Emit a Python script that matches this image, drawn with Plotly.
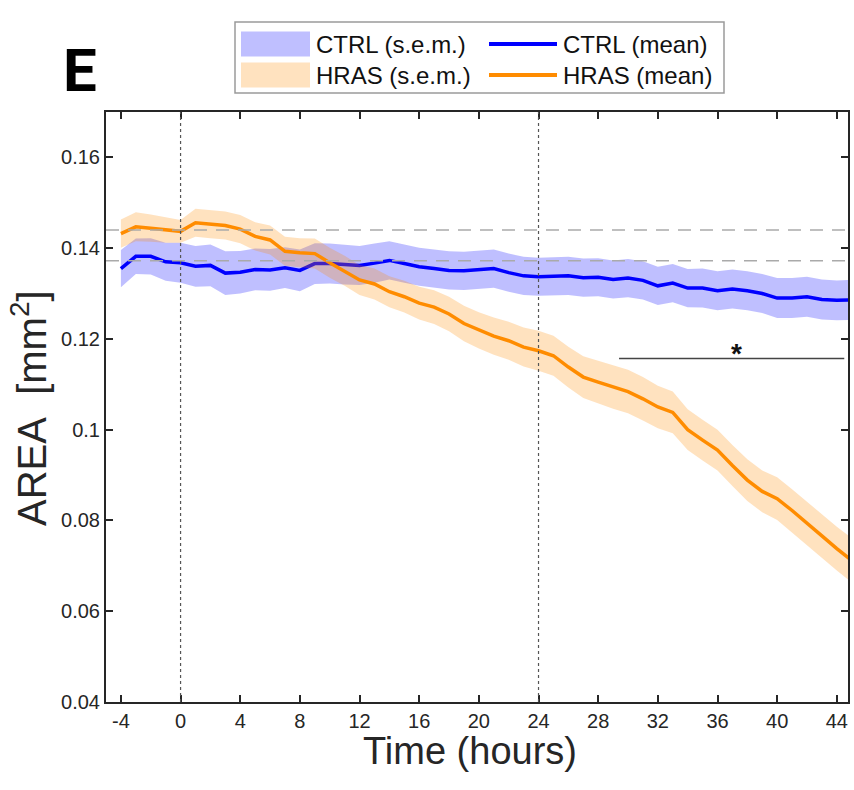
import plotly.graph_objects as go

# ---------------- data ----------------
time_h = list(range(-4, 46))

ctrl_mean = [0.1355, 0.1382, 0.1382, 0.1370, 0.1368, 0.1360, 0.1362, 0.1345, 0.1347, 0.1353,
             0.1352, 0.1357, 0.1351, 0.1366, 0.1366, 0.1364, 0.1362, 0.1367, 0.1373, 0.1366,
             0.1359, 0.1355, 0.1351, 0.1350, 0.1352, 0.1355, 0.1346, 0.1339, 0.1337, 0.1338,
             0.1339, 0.1335, 0.1336, 0.1331, 0.1334, 0.1329, 0.1317, 0.1323, 0.1312, 0.1312,
             0.1306, 0.1310, 0.1306, 0.1300, 0.1290, 0.1290, 0.1293, 0.1287, 0.1285, 0.1286]
ctrl_sem = [0.0041, 0.0039, 0.0040, 0.0042, 0.0044, 0.0045, 0.0046, 0.0048, 0.0047, 0.0046,
            0.0046, 0.0045, 0.0046, 0.0045, 0.0044, 0.0044, 0.0043, 0.0043, 0.0042, 0.0042,
            0.0042, 0.0042, 0.0042, 0.0042, 0.0042, 0.0042, 0.0042, 0.0042, 0.0042, 0.0042,
            0.0042, 0.0042, 0.0042, 0.0042, 0.0042, 0.0042, 0.0042, 0.0042, 0.0042, 0.0043,
            0.0043, 0.0043, 0.0043, 0.0043, 0.0044, 0.0044, 0.0044, 0.0044, 0.0044, 0.0044]

hras_mean = [0.1432, 0.1447, 0.1444, 0.1440, 0.1437, 0.1456, 0.1453, 0.1450, 0.1442, 0.1426,
             0.1418, 0.1393, 0.1390, 0.1388, 0.1368, 0.1350, 0.1330, 0.1321, 0.1304, 0.1293,
             0.1279, 0.1270, 0.1255, 0.1234, 0.1219, 0.1206, 0.1196, 0.1182, 0.1174, 0.1163,
             0.1138, 0.1116, 0.1105, 0.1094, 0.1084, 0.1068, 0.1050, 0.1038, 0.1000, 0.0977,
             0.0955, 0.0921, 0.0889, 0.0864, 0.0848, 0.0822, 0.0793, 0.0766, 0.0738, 0.0712]
hras_sem = [0.0031, 0.0032, 0.0030, 0.0028, 0.0025, 0.0031, 0.0031, 0.0031, 0.0031, 0.0031,
            0.0032, 0.0032, 0.0032, 0.0033, 0.0033, 0.0033, 0.0033, 0.0034, 0.0034, 0.0035,
            0.0036, 0.0037, 0.0038, 0.0039, 0.0040, 0.0041, 0.0042, 0.0043, 0.0044, 0.0044,
            0.0045, 0.0046, 0.0047, 0.0048, 0.0048, 0.0048, 0.0047, 0.0046, 0.0045, 0.0045,
            0.0045, 0.0045, 0.0046, 0.0046, 0.0047, 0.0047, 0.0048, 0.0048, 0.0048, 0.0049]

x_ticks = list(range(-4, 45, 4))
x_tick_text = [str(v) for v in x_ticks]          # plain hyphen minus, as in the reference
y_ticks = [0.04, 0.06, 0.08, 0.10, 0.12, 0.14, 0.16]
y_tick_text = ["0.04", "0.06", "0.08", "0.1", "0.12", "0.14", "0.16"]

ref_lines_y = [0.1440, 0.1372]      # dashed grey reference levels
event_times = [0, 24]               # dotted vertical markers
sig_start, sig_end, sig_level = 29.4, 44.5, 0.1157

series_names = ["CTRL (s.e.m.)", "CTRL (mean)", "HRAS (s.e.m.)", "HRAS (mean)"]

for arr in (ctrl_mean, ctrl_sem, hras_mean, hras_sem):
    assert len(arr) == len(time_h)

# ---------------- styling ----------------
BLUE = "#0000FF"
ORANGE = "#FF8C00"
BLUE_FILL = "rgba(0,0,255,0.25)"
ORANGE_FILL = "rgba(255,140,0,0.25)"
AX = "#262626"
FONT = "Liberation Sans, Arial, sans-serif"

W, H = 854, 790
ML, MR, MT, MB = 106, 6, 112, 88
PW, PH = W - ML - MR, H - MT - MB


def px_to_paper_x(px):
    return (px - ML) / PW


def px_to_paper_y(py):
    return (H - MB - py) / PH


def band(mean, sem):
    up = [m + s for m, s in zip(mean, sem)]
    lo = [m - s for m, s in zip(mean, sem)]
    return time_h + time_h[::-1], up + lo[::-1]


fig = go.Figure()
bx, by = band(ctrl_mean, ctrl_sem)
fig.add_trace(go.Scatter(x=bx, y=by, fill="toself", fillcolor=BLUE_FILL, mode="lines",
                         line=dict(width=0, color=BLUE_FILL), name=series_names[0],
                         hoverinfo="skip", showlegend=False))
fig.add_trace(go.Scatter(x=time_h, y=ctrl_mean, mode="lines", line=dict(color=BLUE, width=3.5),
                         name=series_names[1], showlegend=False))
bx, by = band(hras_mean, hras_sem)
fig.add_trace(go.Scatter(x=bx, y=by, fill="toself", fillcolor=ORANGE_FILL, mode="lines",
                         line=dict(width=0, color=ORANGE_FILL), name=series_names[2],
                         hoverinfo="skip", showlegend=False))
fig.add_trace(go.Scatter(x=time_h, y=hras_mean, mode="lines", line=dict(color=ORANGE, width=3.5),
                         name=series_names[3], showlegend=False))

shapes = []
for t in event_times:
    shapes.append(dict(type="line", xref="x", yref="paper", x0=t, x1=t, y0=0, y1=1,
                       line=dict(color="#555555", width=1.2, dash="dot"), layer="above"))
for yv in ref_lines_y:
    shapes.append(dict(type="line", xref="paper", yref="y", x0=0, x1=1, y0=yv, y1=yv,
                       line=dict(color="#AAAAAA", width=1.5, dash="13px,9px"), layer="above"))
shapes.append(dict(type="line", xref="x", yref="y", x0=sig_start, x1=sig_end,
                   y0=sig_level, y1=sig_level, line=dict(color="#444444", width=1.5)))

# ---------------- legend (frame + swatches + labels) ----------------
shapes.append(dict(type="rect", xref="paper", yref="paper",
                   x0=px_to_paper_x(235), x1=px_to_paper_x(724),
                   y0=px_to_paper_y(93), y1=px_to_paper_y(22),
                   line=dict(color="#9A9A9A", width=1.5), fillcolor="white"))
legend_rows = [44, 75]
annotations = []
for row, (fill_c, line_c, sem_name, mean_name) in enumerate(
        [(BLUE_FILL, BLUE, series_names[0], series_names[1]),
         (ORANGE_FILL, ORANGE, series_names[2], series_names[3])]):
    cy = legend_rows[row]
    shapes.append(dict(type="rect", xref="paper", yref="paper",
                       x0=px_to_paper_x(241), x1=px_to_paper_x(310),
                       y0=px_to_paper_y(cy + 12.5), y1=px_to_paper_y(cy - 12.5),
                       line=dict(width=0), fillcolor=fill_c))
    shapes.append(dict(type="line", xref="paper", yref="paper",
                       x0=px_to_paper_x(489), x1=px_to_paper_x(557),
                       y0=px_to_paper_y(cy), y1=px_to_paper_y(cy),
                       line=dict(color=line_c, width=4)))
    annotations.append(dict(x=px_to_paper_x(314), y=px_to_paper_y(cy), xref="paper", yref="paper",
                            text=sem_name, showarrow=False, xanchor="left", yanchor="middle",
                            font=dict(family=FONT, size=24, color="#111")))
    annotations.append(dict(x=px_to_paper_x(561), y=px_to_paper_y(cy), xref="paper", yref="paper",
                            text=mean_name, showarrow=False, xanchor="left", yanchor="middle",
                            font=dict(family=FONT, size=24, color="#111")))

annotations += [
    dict(x=37.3, y=sig_level, xref="x", yref="y", text="<b>*</b>",
         showarrow=False, yanchor="bottom", yshift=-13,
         font=dict(family=FONT, size=28, color="#111")),
    dict(x=px_to_paper_x(80), y=px_to_paper_y(70), xref="paper", yref="paper", text="<b>E</b>",
         showarrow=False, xanchor="center", yanchor="middle",
         font=dict(family="Roboto, sans-serif", size=60, color="#000")),
    # axis titles
    dict(x=px_to_paper_x(470), y=px_to_paper_y(751), xref="paper", yref="paper",
         text="Time (hours)", showarrow=False, xanchor="center", yanchor="middle",
         font=dict(family=FONT, size=38, color=AX)),
    dict(x=px_to_paper_x(29), y=px_to_paper_y(408), xref="paper", yref="paper",
         text="AREA\u00a0\u00a0[mm<sup>2</sup>]", textangle=-90, showarrow=False,
         xanchor="center", yanchor="middle",
         font=dict(family=FONT, size=40, color=AX)),
]

fig.update_layout(
    width=W, height=H,
    margin=dict(l=ML, r=MR, t=MT, b=MB, autoexpand=False),
    paper_bgcolor="white", plot_bgcolor="white",
    shapes=shapes, annotations=annotations, showlegend=False,
    font=dict(family=FONT, color=AX),
    xaxis=dict(range=[-5, 44.75], tickvals=x_ticks, ticktext=x_tick_text, ticks="inside",
               ticklen=7, tickwidth=1.5, tickcolor=AX, showline=True, linewidth=2, linecolor=AX,
               mirror="ticks", showgrid=False, zeroline=False,
               tickfont=dict(family=FONT, size=20, color=AX)),
    yaxis=dict(range=[0.04, 0.17], tickvals=y_ticks, ticktext=y_tick_text, ticks="inside",
               ticklen=7, tickwidth=1.5, tickcolor=AX, showline=True, linewidth=2, linecolor=AX,
               mirror="ticks", showgrid=False, zeroline=False,
               tickfont=dict(family=FONT, size=20, color=AX)),
)

fig.write_html("out.html")
